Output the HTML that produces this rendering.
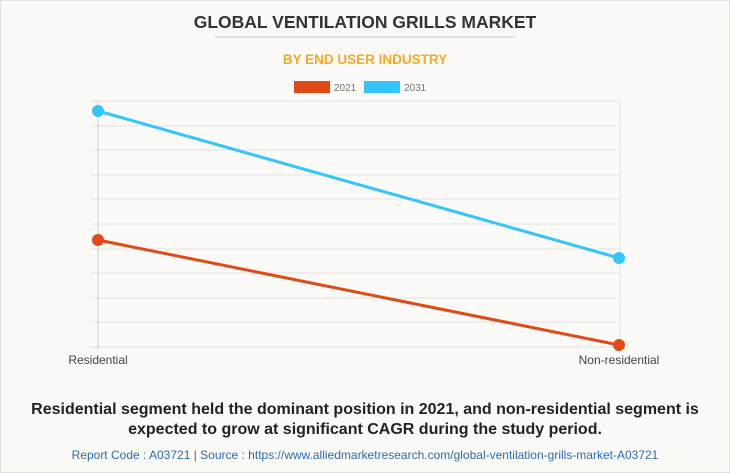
<!DOCTYPE html>
<html><head><style>
body{margin:0;width:730px;height:473px;background:#fbfaf6;font-family:"Liberation Sans",sans-serif;overflow:hidden;position:relative}
.b{position:absolute;left:0;top:0;width:728px;height:471px;border:1px solid #e2e2e2}
</style></head><body><div class="b"></div>
<svg width="730" height="473" style="position:absolute;left:0;top:0" font-family="Liberation Sans, sans-serif">
<text x="365" y="28" text-anchor="middle" font-size="17.5" font-weight="bold" fill="#333">GLOBAL VENTILATION GRILLS MARKET</text>
<line x1="215" y1="37" x2="515" y2="37" stroke="#ccc"/>
<text x="365" y="64" text-anchor="middle" font-size="13.5" font-weight="bold" fill="#f9a825">BY END USER INDUSTRY</text>
<rect x="294" y="81" width="36" height="12" fill="#e04a17"/>
<text x="334" y="91" font-size="10" fill="#777">2021</text>
<rect x="364" y="81" width="36" height="12" fill="#33c6fd"/>
<text x="404" y="91" font-size="10" fill="#777">2031</text>
<g stroke="#e4e3de" stroke-width="1">
<line x1="91" y1="101" x2="620" y2="101"/><line x1="91" y1="126" x2="620" y2="126"/><line x1="91" y1="150" x2="620" y2="150"/><line x1="91" y1="175" x2="620" y2="175"/><line x1="91" y1="199" x2="620" y2="199"/><line x1="91" y1="224" x2="620" y2="224"/><line x1="91" y1="249" x2="620" y2="249"/><line x1="91" y1="273" x2="620" y2="273"/><line x1="91" y1="298" x2="620" y2="298"/><line x1="91" y1="322" x2="620" y2="322"/><line x1="91" y1="347" x2="620" y2="347"/>
<line x1="620" y1="101" x2="620" y2="347"/>
</g>
<line x1="98" y1="101" x2="98" y2="350" stroke="#ccc"/>
<polyline points="98,111 619,258" stroke="#33c6fd" stroke-width="3" fill="none"/>
<polyline points="98,240 619,345" stroke="#e04a17" stroke-width="3" fill="none"/>
<circle cx="98" cy="111" r="6" fill="#33c6fd"/><circle cx="619" cy="258" r="6" fill="#33c6fd"/>
<circle cx="98" cy="240" r="6" fill="#e04a17"/><circle cx="619" cy="345" r="6" fill="#e04a17"/>
<text x="98" y="364" text-anchor="middle" font-size="12" fill="#444">Residential</text>
<text x="619" y="364" text-anchor="middle" font-size="12" fill="#444">Non-residential</text>
<text x="365" y="414" text-anchor="middle" font-size="16" font-weight="bold" fill="#222">Residential segment held the dominant position in 2021, and non-residential segment is</text>
<text x="365" y="434" text-anchor="middle" font-size="16" font-weight="bold" fill="#222">expected to grow at significant CAGR during the study period.</text>
<text x="365" y="459" text-anchor="middle" font-size="12" fill="#2a6db5">Report Code : A03721  |  Source : https://www.alliedmarketresearch.com/global-ventilation-grills-market-A03721</text>
</svg>
</body></html>
